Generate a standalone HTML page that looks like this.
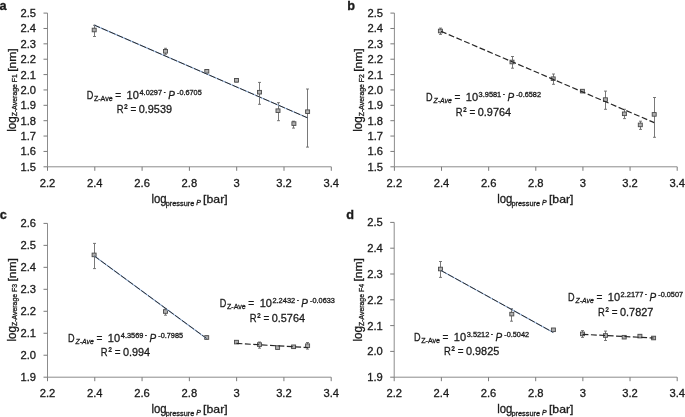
<!DOCTYPE html><html><head><meta charset="utf-8"><style>
html,body{margin:0;padding:0;background:#fff;width:685px;height:417px;overflow:hidden}
svg{display:block;will-change:transform}
text{font-family:"Liberation Sans", sans-serif;fill:#1a1a1a;stroke:#1a1a1a;stroke-width:0.3px}
</style></head><body>
<svg width="685" height="417" viewBox="0 0 685 417">
<path d="M47.50 13.10 V166.80 H331.30" fill="none" stroke="#8c8c8c" stroke-width="1"/>
<path d="M43.50 13.10H47.50M43.50 28.47H47.50M43.50 43.84H47.50M43.50 59.21H47.50M43.50 74.58H47.50M43.50 89.95H47.50M43.50 105.32H47.50M43.50 120.69H47.50M43.50 136.06H47.50M43.50 151.43H47.50M43.50 166.80H47.50M47.50 166.80V170.80M94.80 166.80V170.80M142.10 166.80V170.80M189.40 166.80V170.80M236.70 166.80V170.80M284.00 166.80V170.80M331.30 166.80V170.80" fill="none" stroke="#7a7a7a" stroke-width="1"/>
<text x="36.10" y="17.10" font-size="11.2" text-anchor="end">2.5</text>
<text x="36.10" y="32.47" font-size="11.2" text-anchor="end">2.4</text>
<text x="36.10" y="47.84" font-size="11.2" text-anchor="end">2.3</text>
<text x="36.10" y="63.21" font-size="11.2" text-anchor="end">2.2</text>
<text x="36.10" y="78.58" font-size="11.2" text-anchor="end">2.1</text>
<text x="36.10" y="93.95" font-size="11.2" text-anchor="end">2.0</text>
<text x="36.10" y="109.32" font-size="11.2" text-anchor="end">1.9</text>
<text x="36.10" y="124.69" font-size="11.2" text-anchor="end">1.8</text>
<text x="36.10" y="140.06" font-size="11.2" text-anchor="end">1.7</text>
<text x="36.10" y="155.43" font-size="11.2" text-anchor="end">1.6</text>
<text x="36.10" y="170.80" font-size="11.2" text-anchor="end">1.5</text>
<text x="47.50" y="186.70" font-size="11.2" text-anchor="middle">2.2</text>
<text x="94.80" y="186.70" font-size="11.2" text-anchor="middle">2.4</text>
<text x="142.10" y="186.70" font-size="11.2" text-anchor="middle">2.6</text>
<text x="189.40" y="186.70" font-size="11.2" text-anchor="middle">2.8</text>
<text x="236.70" y="186.70" font-size="11.2" text-anchor="middle">3</text>
<text x="284.00" y="186.70" font-size="11.2" text-anchor="middle">3.2</text>
<text x="331.30" y="186.70" font-size="11.2" text-anchor="middle">3.4</text>
<path d="M394.40 13.10 V166.80 H677.20" fill="none" stroke="#8c8c8c" stroke-width="1"/>
<path d="M390.40 13.10H394.40M390.40 28.47H394.40M390.40 43.84H394.40M390.40 59.21H394.40M390.40 74.58H394.40M390.40 89.95H394.40M390.40 105.32H394.40M390.40 120.69H394.40M390.40 136.06H394.40M390.40 151.43H394.40M390.40 166.80H394.40M394.40 166.80V170.80M441.53 166.80V170.80M488.67 166.80V170.80M535.80 166.80V170.80M582.93 166.80V170.80M630.07 166.80V170.80M677.20 166.80V170.80" fill="none" stroke="#7a7a7a" stroke-width="1"/>
<text x="383.00" y="17.10" font-size="11.2" text-anchor="end">2.5</text>
<text x="383.00" y="32.47" font-size="11.2" text-anchor="end">2.4</text>
<text x="383.00" y="47.84" font-size="11.2" text-anchor="end">2.3</text>
<text x="383.00" y="63.21" font-size="11.2" text-anchor="end">2.2</text>
<text x="383.00" y="78.58" font-size="11.2" text-anchor="end">2.1</text>
<text x="383.00" y="93.95" font-size="11.2" text-anchor="end">2.0</text>
<text x="383.00" y="109.32" font-size="11.2" text-anchor="end">1.9</text>
<text x="383.00" y="124.69" font-size="11.2" text-anchor="end">1.8</text>
<text x="383.00" y="140.06" font-size="11.2" text-anchor="end">1.7</text>
<text x="383.00" y="155.43" font-size="11.2" text-anchor="end">1.6</text>
<text x="383.00" y="170.80" font-size="11.2" text-anchor="end">1.5</text>
<text x="394.40" y="186.70" font-size="11.2" text-anchor="middle">2.2</text>
<text x="441.53" y="186.70" font-size="11.2" text-anchor="middle">2.4</text>
<text x="488.67" y="186.70" font-size="11.2" text-anchor="middle">2.6</text>
<text x="535.80" y="186.70" font-size="11.2" text-anchor="middle">2.8</text>
<text x="582.93" y="186.70" font-size="11.2" text-anchor="middle">3</text>
<text x="630.07" y="186.70" font-size="11.2" text-anchor="middle">3.2</text>
<text x="677.20" y="186.70" font-size="11.2" text-anchor="middle">3.4</text>
<path d="M47.50 223.40 V377.20 H331.20" fill="none" stroke="#8c8c8c" stroke-width="1"/>
<path d="M43.50 223.40H47.50M43.50 245.37H47.50M43.50 267.34H47.50M43.50 289.31H47.50M43.50 311.29H47.50M43.50 333.26H47.50M43.50 355.23H47.50M43.50 377.20H47.50M47.50 377.20V381.20M94.78 377.20V381.20M142.07 377.20V381.20M189.35 377.20V381.20M236.63 377.20V381.20M283.92 377.20V381.20M331.20 377.20V381.20" fill="none" stroke="#7a7a7a" stroke-width="1"/>
<text x="36.10" y="227.40" font-size="11.2" text-anchor="end">2.6</text>
<text x="36.10" y="249.37" font-size="11.2" text-anchor="end">2.5</text>
<text x="36.10" y="271.34" font-size="11.2" text-anchor="end">2.4</text>
<text x="36.10" y="293.31" font-size="11.2" text-anchor="end">2.3</text>
<text x="36.10" y="315.29" font-size="11.2" text-anchor="end">2.2</text>
<text x="36.10" y="337.26" font-size="11.2" text-anchor="end">2.1</text>
<text x="36.10" y="359.23" font-size="11.2" text-anchor="end">2.0</text>
<text x="36.10" y="381.20" font-size="11.2" text-anchor="end">1.9</text>
<text x="47.50" y="397.10" font-size="11.2" text-anchor="middle">2.2</text>
<text x="94.78" y="397.10" font-size="11.2" text-anchor="middle">2.4</text>
<text x="142.07" y="397.10" font-size="11.2" text-anchor="middle">2.6</text>
<text x="189.35" y="397.10" font-size="11.2" text-anchor="middle">2.8</text>
<text x="236.63" y="397.10" font-size="11.2" text-anchor="middle">3</text>
<text x="283.92" y="397.10" font-size="11.2" text-anchor="middle">3.2</text>
<text x="331.20" y="397.10" font-size="11.2" text-anchor="middle">3.4</text>
<path d="M394.20 222.40 V377.20 H677.20" fill="none" stroke="#8c8c8c" stroke-width="1"/>
<path d="M390.20 222.40H394.20M390.20 248.20H394.20M390.20 274.00H394.20M390.20 299.80H394.20M390.20 325.60H394.20M390.20 351.40H394.20M390.20 377.20H394.20M394.20 377.20V381.20M441.37 377.20V381.20M488.53 377.20V381.20M535.70 377.20V381.20M582.87 377.20V381.20M630.03 377.20V381.20M677.20 377.20V381.20" fill="none" stroke="#7a7a7a" stroke-width="1"/>
<text x="382.80" y="226.40" font-size="11.2" text-anchor="end">2.5</text>
<text x="382.80" y="252.20" font-size="11.2" text-anchor="end">2.4</text>
<text x="382.80" y="278.00" font-size="11.2" text-anchor="end">2.3</text>
<text x="382.80" y="303.80" font-size="11.2" text-anchor="end">2.2</text>
<text x="382.80" y="329.60" font-size="11.2" text-anchor="end">2.1</text>
<text x="382.80" y="355.40" font-size="11.2" text-anchor="end">2.0</text>
<text x="382.80" y="381.20" font-size="11.2" text-anchor="end">1.9</text>
<text x="394.20" y="397.10" font-size="11.2" text-anchor="middle">2.2</text>
<text x="441.37" y="397.10" font-size="11.2" text-anchor="middle">2.4</text>
<text x="488.53" y="397.10" font-size="11.2" text-anchor="middle">2.6</text>
<text x="535.70" y="397.10" font-size="11.2" text-anchor="middle">2.8</text>
<text x="582.87" y="397.10" font-size="11.2" text-anchor="middle">3</text>
<text x="630.03" y="397.10" font-size="11.2" text-anchor="middle">3.2</text>
<text x="677.20" y="397.10" font-size="11.2" text-anchor="middle">3.4</text>
<path d="M94.50 25.30V36.50M93.00 25.30H96.00M93.00 36.50H96.00" fill="none" stroke="#6a6a6a" stroke-width="0.9"/>
<rect x="92.20" y="28.20" width="4" height="3.6" fill="#b0b0b0" stroke="#4a4a4a" stroke-width="0.9"/>
<path d="M165.50 48.30V54.30M164.00 48.30H167.00M164.00 54.30H167.00" fill="none" stroke="#6a6a6a" stroke-width="0.9"/>
<rect x="163.50" y="49.50" width="4" height="3.6" fill="#b0b0b0" stroke="#4a4a4a" stroke-width="0.9"/>
<path d="M206.50 69.50V73.00M205.00 69.50H208.00M205.00 73.00H208.00" fill="none" stroke="#6a6a6a" stroke-width="0.9"/>
<rect x="204.80" y="69.50" width="4" height="3.6" fill="#b0b0b0" stroke="#4a4a4a" stroke-width="0.9"/>
<path d="M236.50 78.60V82.00M235.00 78.60H238.00M235.00 82.00H238.00" fill="none" stroke="#6a6a6a" stroke-width="0.9"/>
<rect x="234.50" y="78.50" width="4" height="3.6" fill="#b0b0b0" stroke="#4a4a4a" stroke-width="0.9"/>
<path d="M259.50 82.40V104.30M258.00 82.40H261.00M258.00 104.30H261.00" fill="none" stroke="#6a6a6a" stroke-width="0.9"/>
<rect x="257.50" y="90.40" width="4" height="3.6" fill="#b0b0b0" stroke="#4a4a4a" stroke-width="0.9"/>
<path d="M278.50 102.70V120.70M277.00 102.70H280.00M277.00 120.70H280.00" fill="none" stroke="#6a6a6a" stroke-width="0.9"/>
<rect x="276.00" y="108.90" width="4" height="3.6" fill="#b0b0b0" stroke="#4a4a4a" stroke-width="0.9"/>
<path d="M293.50 121.20V128.10M292.00 121.20H295.00M292.00 128.10H295.00" fill="none" stroke="#6a6a6a" stroke-width="0.9"/>
<rect x="291.90" y="121.80" width="4" height="3.6" fill="#b0b0b0" stroke="#4a4a4a" stroke-width="0.9"/>
<path d="M307.50 89.00V147.10M306.00 89.00H309.00M306.00 147.10H309.00" fill="none" stroke="#6a6a6a" stroke-width="0.9"/>
<rect x="305.60" y="109.90" width="4" height="3.6" fill="#b0b0b0" stroke="#4a4a4a" stroke-width="0.9"/>
<path d="M440.50 28.10V34.40M439.00 28.10H442.00M439.00 34.40H442.00" fill="none" stroke="#6a6a6a" stroke-width="0.9"/>
<rect x="438.40" y="29.20" width="4" height="3.6" fill="#b0b0b0" stroke="#4a4a4a" stroke-width="0.9"/>
<path d="M512.50 56.50V68.20M511.00 56.50H514.00M511.00 68.20H514.00" fill="none" stroke="#6a6a6a" stroke-width="0.9"/>
<rect x="510.00" y="60.20" width="4" height="3.6" fill="#b0b0b0" stroke="#4a4a4a" stroke-width="0.9"/>
<path d="M553.50 74.00V84.30M552.00 74.00H555.00M552.00 84.30H555.00" fill="none" stroke="#6a6a6a" stroke-width="0.9"/>
<rect x="551.20" y="76.90" width="4" height="3.6" fill="#b0b0b0" stroke="#4a4a4a" stroke-width="0.9"/>
<path d="M582.50 89.60V92.60M581.00 89.60H584.00M581.00 92.60H584.00" fill="none" stroke="#6a6a6a" stroke-width="0.9"/>
<rect x="580.40" y="89.30" width="4" height="3.6" fill="#b0b0b0" stroke="#4a4a4a" stroke-width="0.9"/>
<path d="M605.50 91.10V109.30M604.00 91.10H607.00M604.00 109.30H607.00" fill="none" stroke="#6a6a6a" stroke-width="0.9"/>
<rect x="603.40" y="97.80" width="4" height="3.6" fill="#b0b0b0" stroke="#4a4a4a" stroke-width="0.9"/>
<path d="M624.50 109.30V118.60M623.00 109.30H626.00M623.00 118.60H626.00" fill="none" stroke="#6a6a6a" stroke-width="0.9"/>
<rect x="622.40" y="112.00" width="4" height="3.6" fill="#b0b0b0" stroke="#4a4a4a" stroke-width="0.9"/>
<path d="M640.50 121.20V129.40M639.00 121.20H642.00M639.00 129.40H642.00" fill="none" stroke="#6a6a6a" stroke-width="0.9"/>
<rect x="638.30" y="123.10" width="4" height="3.6" fill="#b0b0b0" stroke="#4a4a4a" stroke-width="0.9"/>
<path d="M654.50 97.50V137.30M653.00 97.50H656.00M653.00 137.30H656.00" fill="none" stroke="#6a6a6a" stroke-width="0.9"/>
<rect x="652.20" y="112.60" width="4" height="3.6" fill="#b0b0b0" stroke="#4a4a4a" stroke-width="0.9"/>
<path d="M94.50 243.40V268.60M93.00 243.40H96.00M93.00 268.60H96.00" fill="none" stroke="#6a6a6a" stroke-width="0.9"/>
<rect x="92.10" y="253.10" width="4" height="3.6" fill="#b0b0b0" stroke="#4a4a4a" stroke-width="0.9"/>
<path d="M165.50 308.90V315.20M164.00 308.90H167.00M164.00 315.20H167.00" fill="none" stroke="#6a6a6a" stroke-width="0.9"/>
<rect x="163.50" y="309.70" width="4" height="3.6" fill="#b0b0b0" stroke="#4a4a4a" stroke-width="0.9"/>
<path d="M206.50 336.00V339.00M205.00 336.00H208.00M205.00 339.00H208.00" fill="none" stroke="#6a6a6a" stroke-width="0.9"/>
<rect x="204.70" y="335.70" width="4" height="3.6" fill="#b0b0b0" stroke="#4a4a4a" stroke-width="0.9"/>
<path d="M236.50 340.80V343.40M235.00 340.80H238.00M235.00 343.40H238.00" fill="none" stroke="#6a6a6a" stroke-width="0.9"/>
<rect x="234.50" y="340.30" width="4" height="3.6" fill="#b0b0b0" stroke="#4a4a4a" stroke-width="0.9"/>
<path d="M259.50 342.00V348.20M258.00 342.00H261.00M258.00 348.20H261.00" fill="none" stroke="#6a6a6a" stroke-width="0.9"/>
<rect x="257.50" y="342.80" width="4" height="3.6" fill="#b0b0b0" stroke="#4a4a4a" stroke-width="0.9"/>
<path d="M277.50 346.30V348.90M276.00 346.30H279.00M276.00 348.90H279.00" fill="none" stroke="#6a6a6a" stroke-width="0.9"/>
<rect x="275.60" y="345.80" width="4" height="3.6" fill="#b0b0b0" stroke="#4a4a4a" stroke-width="0.9"/>
<path d="M293.50 345.50V348.10M292.00 345.50H295.00M292.00 348.10H295.00" fill="none" stroke="#6a6a6a" stroke-width="0.9"/>
<rect x="291.60" y="345.00" width="4" height="3.6" fill="#b0b0b0" stroke="#4a4a4a" stroke-width="0.9"/>
<path d="M307.50 342.50V349.10M306.00 342.50H309.00M306.00 349.10H309.00" fill="none" stroke="#6a6a6a" stroke-width="0.9"/>
<rect x="305.60" y="343.90" width="4" height="3.6" fill="#b0b0b0" stroke="#4a4a4a" stroke-width="0.9"/>
<path d="M440.50 261.50V277.40M439.00 261.50H442.00M439.00 277.40H442.00" fill="none" stroke="#6a6a6a" stroke-width="0.9"/>
<rect x="438.50" y="267.20" width="4" height="3.6" fill="#b0b0b0" stroke="#4a4a4a" stroke-width="0.9"/>
<path d="M511.50 308.70V321.20M510.00 308.70H513.00M510.00 321.20H513.00" fill="none" stroke="#6a6a6a" stroke-width="0.9"/>
<rect x="509.80" y="312.30" width="4" height="3.6" fill="#b0b0b0" stroke="#4a4a4a" stroke-width="0.9"/>
<path d="M553.50 328.50V331.10M552.00 328.50H555.00M552.00 331.10H555.00" fill="none" stroke="#6a6a6a" stroke-width="0.9"/>
<rect x="551.40" y="328.00" width="4" height="3.6" fill="#b0b0b0" stroke="#4a4a4a" stroke-width="0.9"/>
<path d="M582.50 330.60V337.40M581.00 330.60H584.00M581.00 337.40H584.00" fill="none" stroke="#6a6a6a" stroke-width="0.9"/>
<rect x="580.50" y="332.10" width="4" height="3.6" fill="#b0b0b0" stroke="#4a4a4a" stroke-width="0.9"/>
<path d="M605.50 331.10V340.50M604.00 331.10H607.00M604.00 340.50H607.00" fill="none" stroke="#6a6a6a" stroke-width="0.9"/>
<rect x="603.50" y="333.70" width="4" height="3.6" fill="#b0b0b0" stroke="#4a4a4a" stroke-width="0.9"/>
<path d="M624.50 335.90V338.50M623.00 335.90H626.00M623.00 338.50H626.00" fill="none" stroke="#6a6a6a" stroke-width="0.9"/>
<rect x="622.20" y="335.40" width="4" height="3.6" fill="#b0b0b0" stroke="#4a4a4a" stroke-width="0.9"/>
<path d="M639.50 334.80V337.40M638.00 334.80H641.00M638.00 337.40H641.00" fill="none" stroke="#6a6a6a" stroke-width="0.9"/>
<rect x="637.90" y="334.30" width="4" height="3.6" fill="#b0b0b0" stroke="#4a4a4a" stroke-width="0.9"/>
<path d="M653.50 336.70V339.30M652.00 336.70H655.00M652.00 339.30H655.00" fill="none" stroke="#6a6a6a" stroke-width="0.9"/>
<rect x="651.60" y="336.20" width="4" height="3.6" fill="#b0b0b0" stroke="#4a4a4a" stroke-width="0.9"/>
<line x1="94.30" y1="25.10" x2="307.90" y2="118.00" stroke="#9dbde8" stroke-width="1.2"/>
<line x1="94.30" y1="25.10" x2="307.90" y2="118.00" stroke="#2e2e2e" stroke-width="1.0" stroke-dasharray="6.8 1.6" stroke-dashoffset="0.6"/>
<line x1="441.00" y1="31.30" x2="654.20" y2="122.60" stroke="#262626" stroke-width="1.2" stroke-dasharray="5.9 2.5"/>
<line x1="94.30" y1="256.00" x2="206.50" y2="338.40" stroke="#9dbde8" stroke-width="1.2"/>
<line x1="94.30" y1="256.00" x2="206.50" y2="338.40" stroke="#2e2e2e" stroke-width="1.0" stroke-dasharray="6.8 1.6" stroke-dashoffset="0.6"/>
<line x1="236.50" y1="343.40" x2="307.70" y2="347.60" stroke="#262626" stroke-width="1.2" stroke-dasharray="5.9 2.5"/>
<line x1="441.00" y1="270.50" x2="553.30" y2="332.50" stroke="#9dbde8" stroke-width="1.2"/>
<line x1="441.00" y1="270.50" x2="553.30" y2="332.50" stroke="#2e2e2e" stroke-width="1.0" stroke-dasharray="6.8 1.6" stroke-dashoffset="0.6"/>
<line x1="582.50" y1="334.30" x2="653.60" y2="338.00" stroke="#262626" stroke-width="1.2" stroke-dasharray="5.9 2.5"/>
<text x="-0.6" y="9.9" font-size="12.7" font-weight="bold">a</text>
<text x="347.2" y="9.7" font-size="12.7" font-weight="bold">b</text>
<text x="-0.2" y="219.2" font-size="12.7" font-weight="bold">c</text>
<text x="346.2" y="218.8" font-size="12.7" font-weight="bold">d</text>
<text x="86.75" y="98.70" font-size="11.50" textLength="6.58" lengthAdjust="spacingAndGlyphs" stroke-width="0.38">D</text>
<text x="93.88" y="100.70" font-size="8.00" textLength="18.84" lengthAdjust="spacingAndGlyphs" stroke-width="0.2">Z-Ave</text>
<text x="115.21" y="98.70" font-size="11.50" textLength="5.89" lengthAdjust="spacingAndGlyphs" stroke-width="0.38">=</text>
<text x="126.56" y="98.70" font-size="11.50" textLength="12.27" lengthAdjust="spacingAndGlyphs" stroke-width="0.38">10</text>
<text x="139.53" y="95.00" font-size="7.00" textLength="22.54" lengthAdjust="spacingAndGlyphs" stroke-width="0.2">4.0297</text>
<text x="162.83" y="95.00" font-size="7.00" textLength="3.85" lengthAdjust="spacingAndGlyphs" stroke-width="0.2">·</text>
<text x="168.19" y="98.50" font-size="11.30" textLength="6.67" lengthAdjust="spacingAndGlyphs" font-style="italic" stroke-width="0.38">P</text>
<text x="176.98" y="95.00" font-size="7.00" textLength="24.73" lengthAdjust="spacingAndGlyphs" stroke-width="0.2">-0.6705</text>
<text x="116.64" y="113.30" font-size="11.50" textLength="6.81" lengthAdjust="spacingAndGlyphs" stroke-width="0.38">R</text>
<text x="124.22" y="111.30" font-size="9.00" textLength="3.29" lengthAdjust="spacingAndGlyphs" stroke-width="0.2">²</text>
<text x="130.43" y="113.30" font-size="11.50" textLength="5.77" lengthAdjust="spacingAndGlyphs" stroke-width="0.38">=</text>
<text x="138.69" y="113.30" font-size="11.50" textLength="33.31" lengthAdjust="spacingAndGlyphs" stroke-width="0.38">0.9539</text>
<text x="425.95" y="101.10" font-size="11.50" textLength="6.58" lengthAdjust="spacingAndGlyphs" stroke-width="0.38">D</text>
<text x="433.43" y="103.10" font-size="8.00" textLength="18.42" lengthAdjust="spacingAndGlyphs" font-style="italic" stroke-width="0.2">Z-Ave</text>
<text x="454.41" y="101.10" font-size="11.50" textLength="5.89" lengthAdjust="spacingAndGlyphs" stroke-width="0.38">=</text>
<text x="465.76" y="101.10" font-size="11.50" textLength="12.27" lengthAdjust="spacingAndGlyphs" stroke-width="0.38">10</text>
<text x="478.62" y="97.40" font-size="7.00" textLength="22.64" lengthAdjust="spacingAndGlyphs" stroke-width="0.2">3.9581</text>
<text x="502.03" y="97.40" font-size="7.00" textLength="3.85" lengthAdjust="spacingAndGlyphs" stroke-width="0.2">·</text>
<text x="507.39" y="100.90" font-size="11.30" textLength="6.67" lengthAdjust="spacingAndGlyphs" font-style="italic" stroke-width="0.38">P</text>
<text x="516.18" y="97.40" font-size="7.00" textLength="24.79" lengthAdjust="spacingAndGlyphs" stroke-width="0.2">-0.6582</text>
<text x="455.74" y="115.70" font-size="11.50" textLength="6.81" lengthAdjust="spacingAndGlyphs" stroke-width="0.38">R</text>
<text x="463.32" y="113.70" font-size="9.00" textLength="3.29" lengthAdjust="spacingAndGlyphs" stroke-width="0.2">²</text>
<text x="469.54" y="115.70" font-size="11.50" textLength="5.77" lengthAdjust="spacingAndGlyphs" stroke-width="0.38">=</text>
<text x="477.79" y="115.70" font-size="11.50" textLength="33.31" lengthAdjust="spacingAndGlyphs" stroke-width="0.38">0.9764</text>
<text x="68.05" y="341.80" font-size="11.50" textLength="6.58" lengthAdjust="spacingAndGlyphs" stroke-width="0.38">D</text>
<text x="75.53" y="343.80" font-size="8.00" textLength="18.42" lengthAdjust="spacingAndGlyphs" font-style="italic" stroke-width="0.2">Z-Ave</text>
<text x="96.51" y="341.80" font-size="11.50" textLength="5.89" lengthAdjust="spacingAndGlyphs" stroke-width="0.38">=</text>
<text x="107.86" y="341.80" font-size="11.50" textLength="12.27" lengthAdjust="spacingAndGlyphs" stroke-width="0.38">10</text>
<text x="120.83" y="338.10" font-size="7.00" textLength="22.52" lengthAdjust="spacingAndGlyphs" stroke-width="0.2">4.3569</text>
<text x="144.13" y="338.10" font-size="7.00" textLength="3.85" lengthAdjust="spacingAndGlyphs" stroke-width="0.2">·</text>
<text x="149.49" y="341.60" font-size="11.30" textLength="6.67" lengthAdjust="spacingAndGlyphs" font-style="italic" stroke-width="0.38">P</text>
<text x="158.28" y="338.10" font-size="7.00" textLength="24.73" lengthAdjust="spacingAndGlyphs" stroke-width="0.2">-0.7985</text>
<text x="100.87" y="356.40" font-size="11.50" textLength="6.81" lengthAdjust="spacingAndGlyphs" stroke-width="0.38">R</text>
<text x="108.45" y="354.40" font-size="9.00" textLength="3.29" lengthAdjust="spacingAndGlyphs" stroke-width="0.2">²</text>
<text x="114.66" y="356.40" font-size="11.50" textLength="5.77" lengthAdjust="spacingAndGlyphs" stroke-width="0.38">=</text>
<text x="122.92" y="356.40" font-size="11.50" textLength="27.25" lengthAdjust="spacingAndGlyphs" stroke-width="0.38">0.994</text>
<text x="219.85" y="307.10" font-size="11.50" textLength="6.58" lengthAdjust="spacingAndGlyphs" stroke-width="0.38">D</text>
<text x="226.98" y="309.10" font-size="8.00" textLength="18.84" lengthAdjust="spacingAndGlyphs" stroke-width="0.2">Z-Ave</text>
<text x="248.31" y="307.10" font-size="11.50" textLength="5.89" lengthAdjust="spacingAndGlyphs" stroke-width="0.38">=</text>
<text x="259.66" y="307.10" font-size="11.50" textLength="12.27" lengthAdjust="spacingAndGlyphs" stroke-width="0.38">10</text>
<text x="272.43" y="303.40" font-size="7.00" textLength="22.75" lengthAdjust="spacingAndGlyphs" stroke-width="0.2">2.2432</text>
<text x="295.93" y="303.40" font-size="7.00" textLength="3.85" lengthAdjust="spacingAndGlyphs" stroke-width="0.2">·</text>
<text x="301.29" y="306.90" font-size="11.30" textLength="6.67" lengthAdjust="spacingAndGlyphs" font-style="italic" stroke-width="0.38">P</text>
<text x="310.08" y="303.40" font-size="7.00" textLength="24.74" lengthAdjust="spacingAndGlyphs" stroke-width="0.2">-0.0633</text>
<text x="249.64" y="321.70" font-size="11.50" textLength="6.81" lengthAdjust="spacingAndGlyphs" stroke-width="0.38">R</text>
<text x="257.22" y="319.70" font-size="9.00" textLength="3.29" lengthAdjust="spacingAndGlyphs" stroke-width="0.2">²</text>
<text x="263.44" y="321.70" font-size="11.50" textLength="5.77" lengthAdjust="spacingAndGlyphs" stroke-width="0.38">=</text>
<text x="271.69" y="321.70" font-size="11.50" textLength="33.31" lengthAdjust="spacingAndGlyphs" stroke-width="0.38">0.5764</text>
<text x="414.05" y="340.70" font-size="11.50" textLength="6.58" lengthAdjust="spacingAndGlyphs" stroke-width="0.38">D</text>
<text x="421.18" y="342.70" font-size="8.00" textLength="18.84" lengthAdjust="spacingAndGlyphs" stroke-width="0.2">Z-Ave</text>
<text x="442.51" y="340.70" font-size="11.50" textLength="5.89" lengthAdjust="spacingAndGlyphs" stroke-width="0.38">=</text>
<text x="453.86" y="340.70" font-size="11.50" textLength="12.27" lengthAdjust="spacingAndGlyphs" stroke-width="0.38">10</text>
<text x="466.72" y="337.00" font-size="7.00" textLength="22.65" lengthAdjust="spacingAndGlyphs" stroke-width="0.2">3.5212</text>
<text x="490.13" y="337.00" font-size="7.00" textLength="3.85" lengthAdjust="spacingAndGlyphs" stroke-width="0.2">·</text>
<text x="495.49" y="340.50" font-size="11.30" textLength="6.67" lengthAdjust="spacingAndGlyphs" font-style="italic" stroke-width="0.38">P</text>
<text x="504.28" y="337.00" font-size="7.00" textLength="24.79" lengthAdjust="spacingAndGlyphs" stroke-width="0.2">-0.5042</text>
<text x="443.91" y="355.30" font-size="11.50" textLength="6.81" lengthAdjust="spacingAndGlyphs" stroke-width="0.38">R</text>
<text x="451.49" y="353.30" font-size="9.00" textLength="3.29" lengthAdjust="spacingAndGlyphs" stroke-width="0.2">²</text>
<text x="457.70" y="355.30" font-size="11.50" textLength="5.77" lengthAdjust="spacingAndGlyphs" stroke-width="0.38">=</text>
<text x="465.96" y="355.30" font-size="11.50" textLength="33.31" lengthAdjust="spacingAndGlyphs" stroke-width="0.38">0.9825</text>
<text x="568.05" y="301.00" font-size="11.50" textLength="6.58" lengthAdjust="spacingAndGlyphs" stroke-width="0.38">D</text>
<text x="575.53" y="303.00" font-size="8.00" textLength="18.42" lengthAdjust="spacingAndGlyphs" font-style="italic" stroke-width="0.2">Z-Ave</text>
<text x="596.51" y="301.00" font-size="11.50" textLength="5.89" lengthAdjust="spacingAndGlyphs" stroke-width="0.38">=</text>
<text x="607.86" y="301.00" font-size="11.50" textLength="12.27" lengthAdjust="spacingAndGlyphs" stroke-width="0.38">10</text>
<text x="620.63" y="297.30" font-size="7.00" textLength="22.75" lengthAdjust="spacingAndGlyphs" stroke-width="0.2">2.2177</text>
<text x="644.13" y="297.30" font-size="7.00" textLength="3.85" lengthAdjust="spacingAndGlyphs" stroke-width="0.2">·</text>
<text x="649.49" y="300.80" font-size="11.30" textLength="6.67" lengthAdjust="spacingAndGlyphs" font-style="italic" stroke-width="0.38">P</text>
<text x="658.28" y="297.30" font-size="7.00" textLength="24.79" lengthAdjust="spacingAndGlyphs" stroke-width="0.2">-0.0507</text>
<text x="597.96" y="315.60" font-size="11.50" textLength="6.81" lengthAdjust="spacingAndGlyphs" stroke-width="0.38">R</text>
<text x="605.53" y="313.60" font-size="9.00" textLength="3.29" lengthAdjust="spacingAndGlyphs" stroke-width="0.2">²</text>
<text x="611.75" y="315.60" font-size="11.50" textLength="5.77" lengthAdjust="spacingAndGlyphs" stroke-width="0.38">=</text>
<text x="620.01" y="315.60" font-size="11.50" textLength="33.31" lengthAdjust="spacingAndGlyphs" stroke-width="0.38">0.7827</text>
<text transform="rotate(-90)" x="-131.78" y="15.60" font-size="12.00" textLength="15.42" lengthAdjust="spacingAndGlyphs" stroke-width="0.38">log</text>
<text transform="rotate(-90)" x="-116.22" y="17.30" font-size="7.40" textLength="42.16" lengthAdjust="spacingAndGlyphs" stroke-width="0.2">Z-Average F1</text>
<text transform="rotate(-90)" x="-71.76" y="15.60" font-size="11.60" textLength="23.42" lengthAdjust="spacingAndGlyphs" stroke-width="0.38">[nm]</text>
<text transform="rotate(-90)" x="-131.78" y="362.00" font-size="12.00" textLength="15.42" lengthAdjust="spacingAndGlyphs" stroke-width="0.38">log</text>
<text transform="rotate(-90)" x="-116.22" y="363.70" font-size="7.40" textLength="42.17" lengthAdjust="spacingAndGlyphs" stroke-width="0.2">Z-Average F2</text>
<text transform="rotate(-90)" x="-71.76" y="362.00" font-size="11.60" textLength="23.42" lengthAdjust="spacingAndGlyphs" stroke-width="0.38">[nm]</text>
<text transform="rotate(-90)" x="-341.58" y="15.60" font-size="12.00" textLength="15.42" lengthAdjust="spacingAndGlyphs" stroke-width="0.38">log</text>
<text transform="rotate(-90)" x="-326.02" y="17.30" font-size="7.40" textLength="42.12" lengthAdjust="spacingAndGlyphs" stroke-width="0.2">Z-Average F3</text>
<text transform="rotate(-90)" x="-281.56" y="15.60" font-size="11.60" textLength="23.42" lengthAdjust="spacingAndGlyphs" stroke-width="0.38">[nm]</text>
<text transform="rotate(-90)" x="-341.58" y="362.00" font-size="12.00" textLength="15.42" lengthAdjust="spacingAndGlyphs" stroke-width="0.38">log</text>
<text transform="rotate(-90)" x="-326.02" y="363.70" font-size="7.40" textLength="42.02" lengthAdjust="spacingAndGlyphs" stroke-width="0.2">Z-Average F4</text>
<text transform="rotate(-90)" x="-281.56" y="362.00" font-size="11.60" textLength="23.42" lengthAdjust="spacingAndGlyphs" stroke-width="0.38">[nm]</text>
<text x="151.43" y="202.80" font-size="12.00" textLength="15.20" lengthAdjust="spacingAndGlyphs" stroke-width="0.38">log</text>
<text x="165.73" y="205.70" font-size="7.60" textLength="28.50" lengthAdjust="spacingAndGlyphs" stroke-width="0.2">pressure</text>
<text x="196.29" y="205.40" font-size="6.60" textLength="4.66" lengthAdjust="spacingAndGlyphs" font-style="italic" stroke-width="0.2">P</text>
<text x="203.13" y="202.80" font-size="11.60" textLength="24.55" lengthAdjust="spacingAndGlyphs" stroke-width="0.38">[bar]</text>
<text x="497.23" y="202.80" font-size="12.00" textLength="15.20" lengthAdjust="spacingAndGlyphs" stroke-width="0.38">log</text>
<text x="511.53" y="205.70" font-size="7.60" textLength="28.50" lengthAdjust="spacingAndGlyphs" stroke-width="0.2">pressure</text>
<text x="542.09" y="205.40" font-size="6.60" textLength="4.66" lengthAdjust="spacingAndGlyphs" font-style="italic" stroke-width="0.2">P</text>
<text x="548.93" y="202.80" font-size="11.60" textLength="24.55" lengthAdjust="spacingAndGlyphs" stroke-width="0.38">[bar]</text>
<text x="151.43" y="412.80" font-size="12.00" textLength="15.20" lengthAdjust="spacingAndGlyphs" stroke-width="0.38">log</text>
<text x="165.73" y="415.70" font-size="7.60" textLength="28.50" lengthAdjust="spacingAndGlyphs" stroke-width="0.2">pressure</text>
<text x="196.29" y="415.40" font-size="6.60" textLength="4.66" lengthAdjust="spacingAndGlyphs" font-style="italic" stroke-width="0.2">P</text>
<text x="203.13" y="412.80" font-size="11.60" textLength="24.55" lengthAdjust="spacingAndGlyphs" stroke-width="0.38">[bar]</text>
<text x="497.23" y="412.80" font-size="12.00" textLength="15.20" lengthAdjust="spacingAndGlyphs" stroke-width="0.38">log</text>
<text x="511.53" y="415.70" font-size="7.60" textLength="28.50" lengthAdjust="spacingAndGlyphs" stroke-width="0.2">pressure</text>
<text x="542.09" y="415.40" font-size="6.60" textLength="4.66" lengthAdjust="spacingAndGlyphs" font-style="italic" stroke-width="0.2">P</text>
<text x="548.93" y="412.80" font-size="11.60" textLength="24.55" lengthAdjust="spacingAndGlyphs" stroke-width="0.38">[bar]</text>
</svg></body></html>
